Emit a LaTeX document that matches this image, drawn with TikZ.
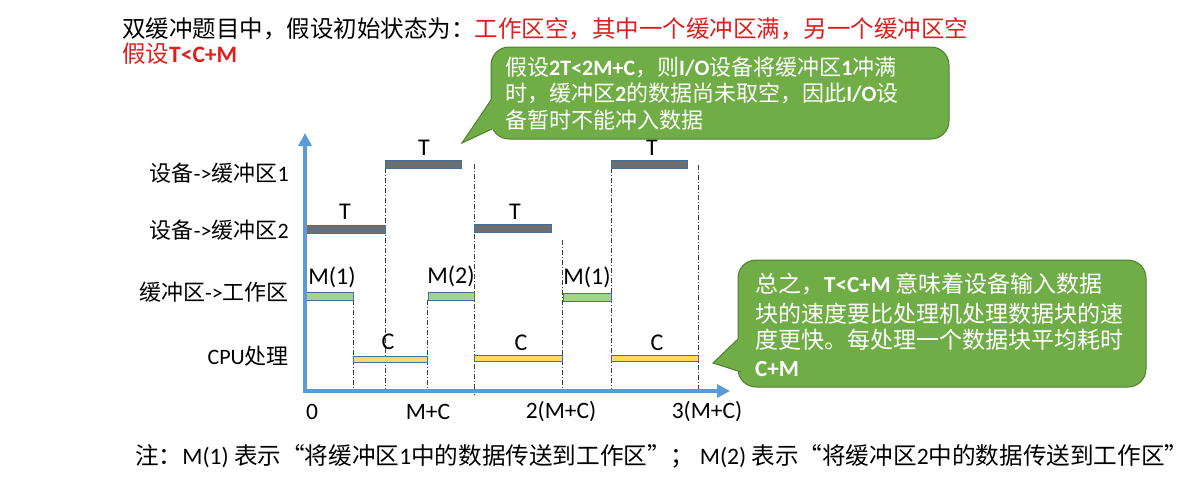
\documentclass[tikz,border=0pt]{standalone}
\usepackage{fontspec}
\setmainfont{Noto Sans CJK SC}
\newfontfamily\enfont{Carlito}
\usetikzlibrary{arrows.meta}
\newcommand\lat[1]{{\enfont #1}}
\newcommand\latb[1]{{\enfont\bfseries #1}}

\definecolor{axisblue}{HTML}{5B9BD5}
\definecolor{bargray}{HTML}{6D6E71}
\definecolor{barline}{HTML}{41719C}
\definecolor{bargreen}{HTML}{A9D18E}
\definecolor{baryellow}{HTML}{FFD966}
\definecolor{calloutfill}{HTML}{70AD47}
\definecolor{calloutline}{HTML}{507E32}
\definecolor{redtext}{HTML}{E01E1E}
\definecolor{guide}{HTML}{404040}

\tikzset{
  axis/.style={draw=axisblue, line width=3.5pt, -{Triangle[length=13pt,width=13pt]}},
  devbar/.style={fill=bargray, draw=barline, line width=0.6pt},
  movebar/.style={fill=bargreen, draw=barline, line width=0.6pt},
  cpubar/.style={fill=baryellow, draw=barline, line width=0.6pt},
  guideline/.style={draw=guide, line width=0.8pt, dash pattern=on 5pt off 2pt on 1pt off 2pt},
  rowlab/.style={anchor=east, inner sep=0pt, font=\fontsize{22}{26}\selectfont},
  barlab/.style={inner sep=0pt, font=\fontsize{24}{28}\selectfont\enfont},
  ticklab/.style={inner sep=0pt, font=\fontsize{23.5}{27}\selectfont\enfont},
  headline/.style={anchor=base west, inner sep=0pt, font=\fontsize{23.5}{28}\selectfont},
  balloon/.style={fill=calloutfill, draw=calloutline, line width=1pt, rounded corners=18pt},
  balloontail/.style={fill=calloutfill},
  balloonedge/.style={draw=calloutline, line width=1pt},
  balloontext/.style={anchor=base west, inner sep=0pt, text=white},
}

\begin{document}
\begin{tikzpicture}[x=1pt,y=-1pt]
\fill[white] (0,0) rectangle (1190,482);
\useasboundingbox (0,0) rectangle (1190,482);

% heading
\node[headline] (h1) at (122,37) {双缓冲题目中，假设初始状态为：\textcolor{redtext}{工作区空，其中一个缓冲区满，另一个缓冲区空}};
\node[headline, text=redtext] (h2) at (122,62) {假设\latb{T<C+M}};

% row labels
\node[rowlab] (r1) at (289,173) {设备\lat{->}缓冲区\lat{1}};
\node[rowlab] (r2) at (289,230) {设备\lat{->}缓冲区\lat{2}};
\node[rowlab] (r3) at (289,292) {缓冲区\lat{->}工作区};
\node[rowlab] (r4) at (289,356) {\lat{CPU}处理};

% guide lines between phases
\draw[guideline] (353,300) -- (353,390);
\draw[guideline] (385,168) -- (385,390);
\draw[guideline] (427,300) -- (427,390);
\draw[guideline] (474,164) -- (474,395);
\draw[guideline] (562,240) -- (562,390);
\draw[guideline] (611,168) -- (611,390);
\draw[guideline] (698,165) -- (698,390);

% device -> buffer 1
\draw[devbar] (385,160) rectangle (461,168);
\draw[devbar] (611,160) rectangle (687,168);
\node[barlab] (t1) at (424,148) {T};
\node[barlab] (t3) at (652,148) {T};
% device -> buffer 2
\draw[devbar] (306,225) rectangle (385,233);
\draw[devbar] (474,224) rectangle (551,232);
\node[barlab] (t2) at (345,212) {T};
\node[barlab] (t4) at (515,212) {T};
% buffer -> work area
\draw[movebar] (306,292) rectangle (353,300);
\draw[movebar] (428,292) rectangle (474,300);
\draw[movebar] (563,293) rectangle (611,301);
\node[barlab] (m1) at (332,277) {M(1)};
\node[barlab] (m2) at (451,276) {M(2)};
\node[barlab] (m3) at (587,277) {M(1)};
% CPU
\draw[cpubar] (353,356) rectangle (427,362);
\draw[cpubar] (474,355) rectangle (562,361);
\draw[cpubar] (611,355) rectangle (698,361);
\node[barlab] (c1) at (388,342) {C};
\node[barlab] (c2) at (521,343) {C};
\node[barlab] (c3) at (657,343) {C};

% axes
\coordinate (origin) at (305,391);
\coordinate (ytop) at (305,133);
\coordinate (xend) at (730,391);
\draw[axis] ([yshift=-1.75pt]origin) -- (ytop);
\draw[axis] ([xshift=-1.75pt]origin) -- (xend);
\node[ticklab] (x0) at (312,412) {0};
\node[ticklab] (x1) at (428,412) {M+C};
\node[ticklab] (x2) at (561,412) {2(M+C)};
\node[ticklab] (x3) at (707,412) {3(M+C)};

% balloon 1
\draw[balloon] (491,47) rectangle (949,139);
\coordinate (tip1) at (462,143);
\fill[balloontail] (tip1) -- (491,100) -- (498,100) -- (498,127) -- (492,129) -- cycle;
\draw[balloonedge] (491,100) -- (tip1) -- (492,129);
\begin{scope}[every node/.style={balloontext, font=\fontsize{22}{27}\selectfont}]
\node (b1a) at (505,75) {假设\latb{2T<2M+C}，则\latb{I/O}设备将缓冲区\latb{1}冲满};
\node (b1b) at (505,101) {时，缓冲区\latb{2}的数据尚未取空，因此\latb{I/O}设};
\node (b1c) at (505,128) {备暂时不能冲入数据};
\end{scope}

% balloon 2
\draw[balloon] (738,260) rectangle (1146,387);
\coordinate (tip2) at (713,363);
\fill[balloontail] (tip2) -- (738,339) -- (746,339) -- (746,369) -- (741,372) -- cycle;
\draw[balloonedge] (738,339) -- (tip2) -- (741,372);
\begin{scope}[every node/.style={balloontext, font=\fontsize{23}{28}\selectfont}]
\node (b2a) at (755,292) {总之，\latb{T<C+M} 意味着设备输入数据};
\node (b2b) at (755,322) {块的速度要比处理机处理数据块的速};
\node (b2c) at (755,348) {度更快。每处理一个数据块平均耗时};
\node (b2d) at (755,376) {\latb{C+M}};
\end{scope}

% note
\node[anchor=base west, inner sep=0pt, font=\fontsize{23.6}{28}\selectfont] (note) at (135,464)
  {注：\lat{M(1)} 表示“将缓冲区\lat{1}中的数据传送到工作区”；\lat{ M(2)} 表示“将缓冲区\lat{2}中的数据传送到工作区”};
\end{tikzpicture}
\end{document}
